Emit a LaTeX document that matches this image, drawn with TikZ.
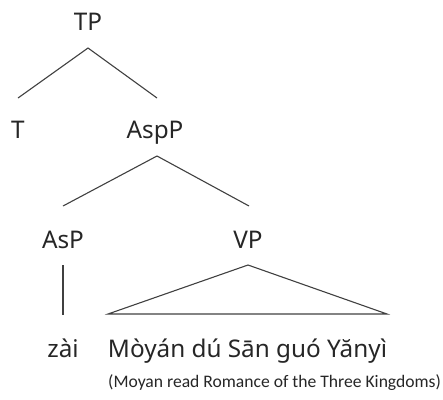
\documentclass[tikz,border=0pt]{standalone}
\usepackage{fontspec}
\setmainfont{Noto Sans}
\newfontfamily\glossfont{Carlito}
\begin{document}
\begin{tikzpicture}[x=1pt,y=-1pt,
  lbl/.style={anchor=base,inner sep=0pt,text=black!85,font=\fontsize{24.3}{28}\selectfont},
  gloss/.style={anchor=base west,inner sep=0pt,text=black!85,font=\glossfont\fontsize{17.6}{20}\selectfont},
  branch/.style={draw=black!75,line width=1.1pt}]
\useasboundingbox (0,0) rectangle (443,399);
% category labels
\node[lbl] (tp) at (88,30) {TP};
\node[lbl] (t) at (18,138) {T};
\node[lbl] (aspp) at (155,138) {AspP};
\node[lbl] (asp) at (63,248) {AsP};
\node[lbl] (vp) at (248,248) {VP};
\node[lbl] (zai) at (63,357) {zài};
\node[lbl] (sent) at (247.5,357) {Mòyán dú Sān guó Yănyì};
\node[gloss] (trans) at (108,387) {(Moyan read Romance of the Three Kingdoms)};
% branch end points
\coordinate (tpTop) at (88,48);
\coordinate (tpL) at (18,98);
\coordinate (tpR) at (157,98);
\coordinate (aspTop) at (157,156);
\coordinate (aspL) at (63,206);
\coordinate (aspR) at (249,206);
\coordinate (headTop) at (63,265);
\coordinate (headBot) at (63,315);
\coordinate (vpTop) at (248,265);
\coordinate (vpL) at (108,314);
\coordinate (vpR) at (387,314);
% branches
\draw[branch] (tpL) -- (tpTop) -- (tpR);
\draw[branch] (aspL) -- (aspTop) -- (aspR);
\draw[branch] (headTop) -- (headBot);
\draw[branch,line join=miter] (vpTop) -- (vpL) -- (vpR) -- cycle;
\end{tikzpicture}
\end{document}
